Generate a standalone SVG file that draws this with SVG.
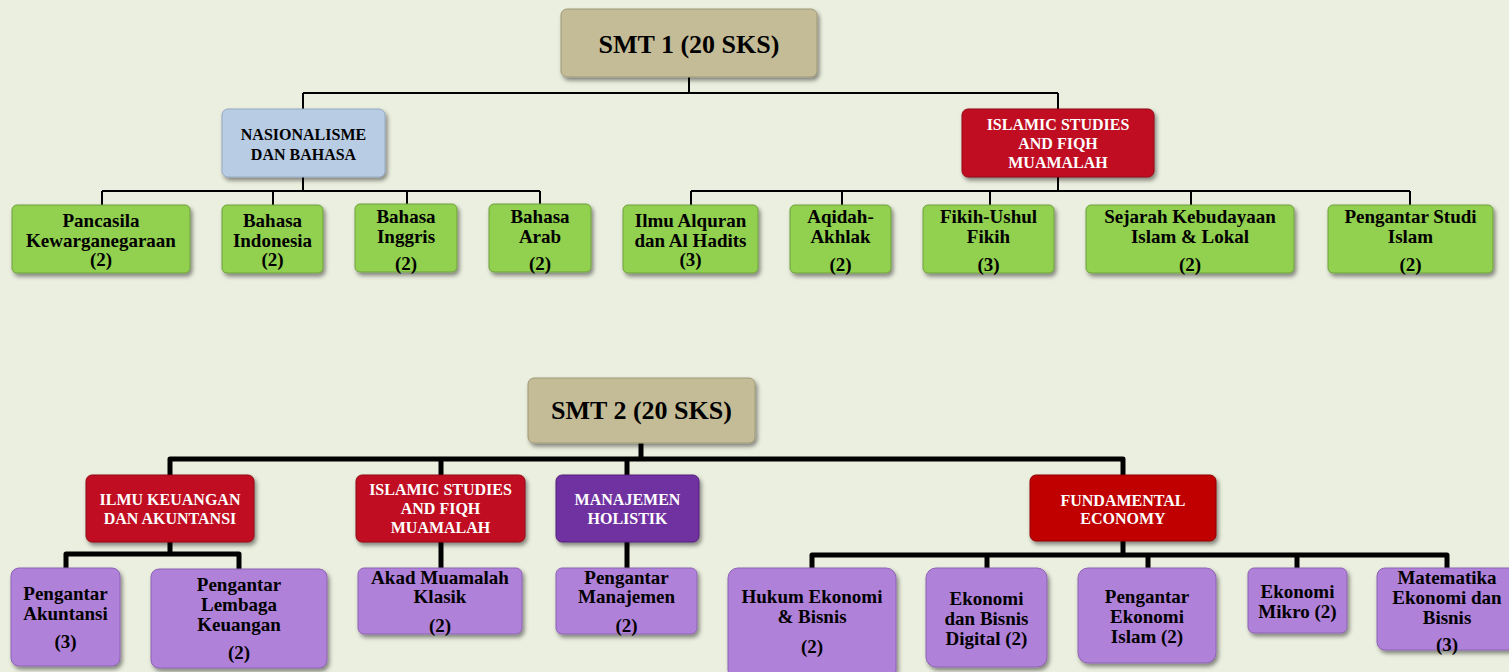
<svg xmlns="http://www.w3.org/2000/svg" width="1509" height="672" viewBox="0 0 1509 672">
<defs>
<filter id="sh" x="-10%" y="-10%" width="125%" height="135%">
<feDropShadow dx="2" dy="3" stdDeviation="2" flood-color="#000" flood-opacity="0.45"/>
</filter>
<style>
text{font-family:"Liberation Serif","Times New Roman",serif;font-weight:bold;text-anchor:middle}
.box{filter:url(#sh);stroke-width:1}
.tan{fill:#c4bc96;stroke:#9f9878}
.blue{fill:#b8cce4;stroke:#93a8c2}
.red{fill:#c00f20;stroke:#900a18}
.dred{fill:#c00000;stroke:#8f0000}
.vio{fill:#7030a0;stroke:#55207c}
.grn{fill:#92d050;stroke:#6f9f3c}
.lil{fill:#b081d8;stroke:#8d62b3}
.t26{font-size:26px;fill:#000}
.h{font-size:16px}
.hb{fill:#000}
.hw{fill:#fff}
.c{font-size:19px;fill:#000}
.thin{stroke:#000;stroke-width:2;fill:none}
.thick{stroke:#000;stroke-width:5;fill:none;stroke-linejoin:round}
</style>
</defs>
<rect x="0" y="0" width="1509" height="672" fill="#ebefdf"/>

<g id="connectors">
<path class="thin" d="M689,77V93M303,93H1058M303,93V109M1058,93V109"/>
<path class="thin" d="M303,177V191M102,191H540M102,191V205M273,191V205M407,191V204M540,191V204"/>
<path class="thin" d="M1058,177V191M691,191H1410M691,191V205M842,191V205M990,191V205M1191,191V205M1410,191V205"/>
<path class="thick" d="M641,443V459M170,475V459H1123V475M441,459V475M627,459V475"/>
<path class="thick" d="M170,542V554M66,569V554H239V569"/>
<path class="thick" d="M441,542V568M627,542V568"/>
<path class="thick" d="M1123,541V555M812,568V555H1447V568M987,555V568M1148,555V568M1297,555V568"/>
</g>

<g id="smt1">
<rect class="box tan" x="561" y="9" width="256" height="68" rx="6"/>
<text class="t26" x="689" y="53">SMT 1 (20 SKS)</text>
</g>
<g id="nasionalisme">
<rect class="box blue" x="222" y="109" width="163" height="68" rx="6"/>
<text class="h hb" x="303.5" y="140">NASIONALISME</text>
<text class="h hb" x="303.5" y="160">DAN BAHASA</text>
</g>
<g id="islamic1">
<rect class="box red" x="962" y="109" width="192" height="68" rx="6"/>
<text class="h hw" x="1058" y="130">ISLAMIC STUDIES</text>
<text class="h hw" x="1058" y="149">AND FIQH</text>
<text class="h hw" x="1058" y="168">MUAMALAH</text>
</g>
<g id="pancasila">
<rect class="box grn" x="12" y="205" width="178" height="68" rx="5"/>
<text class="c" x="101" y="227">Pancasila</text>
<text class="c" x="101" y="247">Kewarganegaraan</text>
<text class="c" x="101" y="266">(2)</text>
</g>
<g id="bindonesia">
<rect class="box grn" x="222" y="205" width="101" height="68" rx="5"/>
<text class="c" x="272.5" y="227">Bahasa</text>
<text class="c" x="272.5" y="247">Indonesia</text>
<text class="c" x="272.5" y="266">(2)</text>
</g>
<g id="binggris">
<rect class="box grn" x="355" y="204" width="102" height="68" rx="5"/>
<text class="c" x="406" y="223">Bahasa</text>
<text class="c" x="406" y="243">Inggris</text>
<text class="c" x="406" y="270">(2)</text>
</g>
<g id="barab">
<rect class="box grn" x="489" y="204" width="102" height="68" rx="5"/>
<text class="c" x="540" y="223">Bahasa</text>
<text class="c" x="540" y="243">Arab</text>
<text class="c" x="540" y="270">(2)</text>
</g>
<g id="alquran">
<rect class="box grn" x="623" y="205" width="135" height="68" rx="5"/>
<text class="c" x="690.5" y="227">Ilmu Alquran</text>
<text class="c" x="690.5" y="247">dan Al Hadits</text>
<text class="c" x="690.5" y="266">(3)</text>
</g>
<g id="aqidah">
<rect class="box grn" x="790" y="205" width="101" height="68" rx="5"/>
<text class="c" x="840.5" y="223">Aqidah-</text>
<text class="c" x="840.5" y="243">Akhlak</text>
<text class="c" x="840.5" y="271">(2)</text>
</g>
<g id="fikih">
<rect class="box grn" x="923" y="205" width="131" height="68" rx="5"/>
<text class="c" x="988.5" y="223">Fikih-Ushul</text>
<text class="c" x="988.5" y="243">Fikih</text>
<text class="c" x="988.5" y="271">(3)</text>
</g>
<g id="sejarah">
<rect class="box grn" x="1086" y="205" width="208" height="68" rx="5"/>
<text class="c" x="1190" y="223">Sejarah Kebudayaan</text>
<text class="c" x="1190" y="243">Islam &amp; Lokal</text>
<text class="c" x="1190" y="271">(2)</text>
</g>
<g id="studiislam">
<rect class="box grn" x="1328" y="205" width="165" height="68" rx="5"/>
<text class="c" x="1410.5" y="223">Pengantar Studi</text>
<text class="c" x="1410.5" y="243">Islam</text>
<text class="c" x="1410.5" y="271">(2)</text>
</g>

<g id="smt2">
<rect class="box tan" x="528" y="378" width="227" height="65" rx="6"/>
<text class="t26" x="641.5" y="419">SMT 2 (20 SKS)</text>
</g>
<g id="ilmukeuangan">
<rect class="box red" x="86" y="475" width="168" height="67" rx="6"/>
<text class="h hw" x="170" y="505">ILMU KEUANGAN</text>
<text class="h hw" x="170" y="524">DAN AKUNTANSI</text>
</g>
<g id="islamic2">
<rect class="box red" x="356" y="475" width="169" height="67" rx="6"/>
<text class="h hw" x="440.5" y="495">ISLAMIC STUDIES</text>
<text class="h hw" x="440.5" y="514">AND FIQH</text>
<text class="h hw" x="440.5" y="533">MUAMALAH</text>
</g>
<g id="manajemen">
<rect class="box vio" x="556" y="475" width="143" height="67" rx="6"/>
<text class="h hw" x="627.5" y="505">MANAJEMEN</text>
<text class="h hw" x="627.5" y="524">HOLISTIK</text>
</g>
<g id="fundamental">
<rect class="box dred" x="1030" y="475" width="186" height="66" rx="6"/>
<text class="h hw" x="1123" y="506">FUNDAMENTAL</text>
<text class="h hw" x="1123" y="524">ECONOMY</text>
</g>
<g id="akuntansi">
<rect class="box lil" x="11" y="568" width="109" height="98" rx="8"/>
<text class="c" x="65.5" y="600">Pengantar</text>
<text class="c" x="65.5" y="620">Akuntansi</text>
<text class="c" x="65.5" y="648">(3)</text>
</g>
<g id="lembaga">
<rect class="box lil" x="151" y="569" width="176" height="99" rx="8"/>
<text class="c" x="239" y="591">Pengantar</text>
<text class="c" x="239" y="611">Lembaga</text>
<text class="c" x="239" y="631">Keuangan</text>
<text class="c" x="239" y="659">(2)</text>
</g>
<g id="akad">
<rect class="box lil" x="358" y="568" width="164" height="66" rx="6"/>
<text class="c" x="440" y="584">Akad Muamalah</text>
<text class="c" x="440" y="603">Klasik</text>
<text class="c" x="440" y="632">(2)</text>
</g>
<g id="pmanajemen">
<rect class="box lil" x="556" y="568" width="141" height="66" rx="6"/>
<text class="c" x="626.5" y="584">Pengantar</text>
<text class="c" x="626.5" y="603">Manajemen</text>
<text class="c" x="626.5" y="632">(2)</text>
</g>
<g id="hukum">
<rect class="box lil" x="728" y="568" width="168" height="112" rx="10"/>
<text class="c" x="812" y="603">Hukum Ekonomi</text>
<text class="c" x="812" y="623">&amp; Bisnis</text>
<text class="c" x="812" y="653">(2)</text>
</g>
<g id="digital">
<rect class="box lil" x="926" y="568" width="121" height="99" rx="10"/>
<text class="c" x="986.5" y="605">Ekonomi</text>
<text class="c" x="986.5" y="625">dan Bisnis</text>
<text class="c" x="986.5" y="645">Digital (2)</text>
</g>
<g id="ekoislam">
<rect class="box lil" x="1078" y="568" width="138" height="95" rx="10"/>
<text class="c" x="1147" y="603">Pengantar</text>
<text class="c" x="1147" y="623">Ekonomi</text>
<text class="c" x="1147" y="643">Islam (2)</text>
</g>
<g id="mikro">
<rect class="box lil" x="1248" y="568" width="99" height="65" rx="6"/>
<text class="c" x="1297.5" y="598">Ekonomi</text>
<text class="c" x="1297.5" y="618">Mikro (2)</text>
</g>
<g id="matematika">
<rect class="box lil" x="1377" y="568" width="140" height="82" rx="8"/>
<text class="c" x="1447" y="584">Matematika</text>
<text class="c" x="1447" y="604">Ekonomi dan</text>
<text class="c" x="1447" y="624">Bisnis</text>
<text class="c" x="1447" y="651">(3)</text>
</g>
</svg>
